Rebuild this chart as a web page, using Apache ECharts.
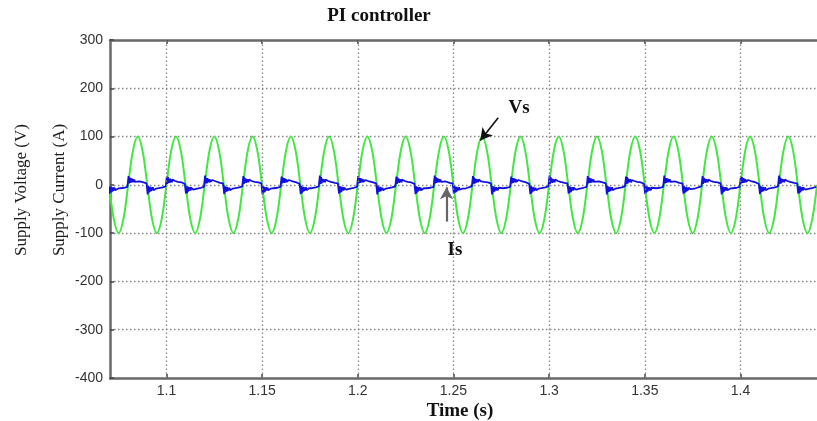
<!DOCTYPE html>
<html>
<head>
<meta charset="utf-8">
<title>PI controller</title>
<script src="https://cdn.jsdelivr.net/npm/echarts@6/dist/echarts.min.js"></script>
<style>
  html, body { margin: 0; padding: 0; background: #fff; }
  #chart { width: 817px; height: 421px; }
</style>
</head>
<body>
<div id="chart"></div>
<script>
// Time axis ticks (s) and supply-side value ticks
const xTickValues = [1.1, 1.15, 1.2, 1.25, 1.3, 1.35, 1.4];
const yTickMin = -400;
const yTickMax = 300;
const yTickStep = 100;

// Start time of each half cycle of the 50 Hz supply (s)
const halfStarts = [
  1.07, 1.08, 1.09, 1.10, 1.11, 1.12, 1.13, 1.14, 1.15, 1.16,
  1.17, 1.18, 1.19, 1.20, 1.21, 1.22, 1.23, 1.24, 1.25, 1.26,
  1.27, 1.28, 1.29, 1.30, 1.31, 1.32, 1.33, 1.34, 1.35, 1.36,
  1.37, 1.38, 1.39, 1.40, 1.41, 1.42, 1.43
];

// Supply voltage Vs (V): sample times inside a half cycle and the readings
const vsOffsets = [0, 0.0025, 0.005, 0.0075];
const vsHalfValues = [
  [0, -71, -100, -71], [0, 71, 100, 71], [0, -71, -100, -71], [0, 71, 100, 71],
  [0, -71, -100, -71], [0, 71, 100, 71], [0, -71, -100, -71], [0, 71, 100, 71],
  [0, -71, -100, -71], [0, 71, 100, 71], [0, -71, -100, -71], [0, 71, 100, 71],
  [0, -71, -100, -71], [0, 71, 100, 71], [0, -71, -100, -71], [0, 71, 100, 71],
  [0, -71, -100, -71], [0, 71, 100, 71], [0, -71, -100, -71], [0, 71, 100, 71],
  [0, -71, -100, -71], [0, 71, 100, 71], [0, -71, -100, -71], [0, 71, 100, 71],
  [0, -71, -100, -71], [0, 71, 100, 71], [0, -71, -100, -71], [0, 71, 100, 71],
  [0, -71, -100, -71], [0, 71, 100, 71], [0, -71, -100, -71], [0, 71, 100, 71],
  [0, -71, -100, -71], [0, 71, 100, 71], [0, -71, -100, -71], [0, 71, 100, 71],
  [0, -71, -100, -71]
];
const vsEnd = [1.44, 0];

// Supply current Is (A): sample times inside a half cycle and the readings
const isOffsets = [0.0002, 0.0005, 0.0008, 0.0011, 0.0014, 0.0017, 0.0020, 0.0023, 0.0026,
                   0.0029, 0.0032, 0.0035, 0.0040, 0.0045, 0.0060, 0.0080, 0.0096];
const isHalfValues = [
  [-19, -3, -16, -4, -15, -5, -13, -5, -12, -6, -11, -7, -10, -8, -7, -6, -4],
  [18, 3, 15, 4, 14, 5, 13, 5, 12, 6, 11, 6, 10, 8, 7, 5, 3],
  [-20, -2, -16, -4, -14, -4, -13, -6, -11, -5, -11, -7, -9, -8, -7, -5, -3],
  [17, 2, 16, 4, 13, 4, 13, 6, 11, 5, 11, 7, 9, 8, 6, 5, 2],
  [-18, -3, -17, -3, -14, -5, -12, -5, -12, -6, -10, -6, -10, -7, -8, -6, -4],
  [19, 3, 14, 3, 14, 5, 12, 5, 12, 6, 10, 6, 10, 7, 7, 4, 3],
  [-19, -2, -15, -5, -14, -4, -13, -6, -11, -6, -11, -7, -9, -8, -7, -5, -3],
  [18, 2, 15, 5, 13, 4, 12, 6, 11, 5, 11, 7, 9, 8, 6, 5, 3],
  [-20, -3, -16, -4, -15, -5, -12, -5, -12, -6, -11, -7, -10, -8, -7, -6, -4],
  [17, 3, 15, 4, 14, 4, 13, 5, 12, 6, 10, 6, 10, 8, 7, 5, 2],
  [-19, -2, -17, -4, -14, -4, -13, -6, -11, -5, -11, -7, -9, -7, -7, -5, -3],
  [19, 2, 16, 3, 13, 5, 12, 6, 11, 5, 11, 7, 9, 8, 6, 4, 3],
  [-18, -3, -16, -3, -15, -5, -12, -5, -12, -6, -10, -6, -10, -8, -8, -6, -4],
  [18, 3, 14, 4, 14, 5, 13, 5, 12, 6, 10, 6, 10, 7, 7, 5, 3],
  [-20, -2, -15, -5, -14, -4, -13, -6, -11, -6, -11, -7, -9, -8, -7, -5, -3],
  [17, 2, 15, 5, 13, 4, 12, 6, 11, 5, 11, 7, 9, 8, 6, 5, 2],
  [-19, -3, -17, -4, -14, -5, -12, -5, -12, -6, -11, -7, -10, -7, -7, -6, -4],
  [19, 3, 16, 4, 14, 5, 13, 5, 12, 6, 11, 6, 10, 8, 7, 4, 3],
  [-18, -2, -16, -4, -15, -4, -13, -6, -11, -5, -10, -7, -9, -8, -8, -5, -3],
  [18, 2, 15, 3, 13, 4, 12, 6, 11, 5, 11, 7, 9, 7, 6, 5, 3],
  [-20, -3, -15, -3, -14, -5, -12, -5, -12, -6, -11, -6, -10, -8, -7, -6, -4],
  [17, 3, 14, 4, 14, 5, 13, 5, 12, 6, 10, 6, 10, 8, 7, 5, 2],
  [-19, -2, -17, -5, -14, -4, -13, -6, -11, -6, -11, -7, -9, -8, -7, -5, -3],
  [19, 2, 16, 5, 13, 4, 12, 6, 11, 5, 11, 7, 9, 8, 6, 4, 3],
  [-18, -3, -16, -4, -15, -5, -12, -5, -12, -6, -10, -7, -10, -7, -8, -6, -4],
  [18, 3, 15, 4, 14, 4, 13, 5, 12, 6, 11, 6, 10, 7, 7, 5, 3],
  [-20, -2, -15, -4, -14, -4, -13, -6, -11, -5, -11, -7, -9, -8, -7, -5, -3],
  [17, 2, 16, 3, 13, 5, 12, 6, 11, 5, 10, 7, 9, 8, 6, 5, 2],
  [-19, -3, -16, -3, -14, -5, -12, -5, -12, -6, -11, -6, -10, -8, -7, -6, -4],
  [19, 3, 14, 4, 14, 5, 13, 5, 12, 6, 11, 6, 10, 8, 7, 4, 3],
  [-18, -2, -17, -5, -15, -4, -13, -6, -11, -6, -10, -7, -9, -7, -8, -5, -3],
  [18, 2, 15, 5, 13, 4, 12, 6, 11, 5, 11, 7, 9, 8, 6, 5, 3],
  [-20, -3, -16, -4, -14, -5, -12, -5, -12, -6, -11, -7, -10, -8, -7, -6, -4],
  [17, 3, 16, 4, 14, 4, 13, 5, 12, 6, 10, 6, 10, 7, 7, 5, 2],
  [-19, -2, -15, -4, -14, -4, -13, -6, -11, -5, -11, -7, -9, -8, -7, -5, -3],
  [19, 2, 15, 3, 13, 5, 12, 6, 11, 5, 11, 7, 9, 8, 6, 4, 3],
  [-18, -3, -17, -3, -15, -5, -12, -5, -12, -6, -10, -6, -10, -7, -8, -6, -4]
];

// Annotation arrows, in data coordinates [time, value]
const vsArrow = [[1.2734, 139], [1.2640, 92]];
const isArrow = [[1.2464, -76], [1.2464, -5]];

// Turn the half-cycle tables into [time, value] points
function buildPoints(starts, offsets, values) {
  const pts = [];
  starts.forEach((s, k) => {
    offsets.forEach((o, j) => {
      pts.push([+(s + o).toFixed(5), values[k][j]]);
    });
  });
  return pts;
}
const vsData = buildPoints(halfStarts, vsOffsets, vsHalfValues).concat([vsEnd]);
const isData = buildPoints(halfStarts, isOffsets, isHalfValues);

const serif = '"Liberation Serif", "Times New Roman", serif';
const sans = '"Liberation Sans", Arial, sans-serif';
const axisGray = '#6a6a6a';
const gridDots = { color: '#858585', width: 1.3, type: [1.5, 2.5] };

const chart = echarts.init(document.getElementById('chart'), null, { renderer: 'canvas' });

const xMin = 1.0705, xMax = 1.44;

chart.setOption({
  animation: false,
  backgroundColor: '#ffffff',
  grid: { left: 110, right: -20, top: 40, bottom: 43, containLabel: false },
  xAxis: [
    {
      type: 'value', min: xMin, max: xMax, position: 'bottom',
      axisLine: { show: true, onZero: false, lineStyle: { color: axisGray, width: 2.5 } },
      axisTick: { show: true, inside: true, length: 4, customValues: xTickValues,
                  lineStyle: { color: '#444', width: 1.5 } },
      axisLabel: { show: true, customValues: xTickValues, margin: 6,
                   color: '#333', fontFamily: sans, fontSize: 14,
                   formatter: v => String(+v.toFixed(2)) },
      splitLine: { show: false }
    },
    {
      type: 'value', min: xMin, max: xMax, position: 'top',
      axisLine: { show: true, onZero: false, lineStyle: { color: axisGray, width: 2.5 } },
      axisTick: { show: true, inside: true, length: 4, customValues: xTickValues,
                  lineStyle: { color: '#444', width: 1.5 } },
      axisLabel: { show: false },
      splitLine: { show: false }
    }
  ],
  yAxis: {
    type: 'value', min: yTickMin, max: yTickMax, interval: yTickStep,
    axisLine: { show: true, onZero: false, lineStyle: { color: axisGray, width: 2.5 } },
    axisTick: { show: true, inside: true, length: 4, lineStyle: { color: '#444', width: 1.5 } },
    axisLabel: { margin: 7, color: '#333', fontFamily: sans, fontSize: 14 },
    splitLine: { show: true, lineStyle: gridDots }
  },
  series: [
    {
      // vertical dotted grid at each time tick
      name: 'grid', type: 'line', data: [[xTickValues[0], 0]], symbol: 'none',
      lineStyle: { opacity: 0 }, silent: true, z: 1,
      markLine: {
        silent: true, symbol: 'none', label: { show: false },
        lineStyle: gridDots,
        data: xTickValues.map(v => ({ xAxis: v }))
      }
    },
    {
      name: 'Vs', type: 'line', data: vsData, symbol: 'none', smooth: 0.35,
      lineStyle: { color: '#40e840', width: 2 }, z: 2
    },
    {
      name: 'Is', type: 'line', data: isData, symbol: 'none',
      lineStyle: { color: '#1010e0', width: 1.8 }, z: 3,
      markLine: {
        silent: true, symbol: ['none', 'arrow'], symbolSize: [10, 12],
        label: { show: false },
        data: [
          [{ coord: vsArrow[0], lineStyle: { color: '#111', width: 1.6, type: 'solid' } },
           { coord: vsArrow[1] }],
          [{ coord: isArrow[0], lineStyle: { color: '#666', width: 2.2, type: 'solid' } },
           { coord: isArrow[1] }]
        ]
      }
    }
  ],
  graphic: [
    { type: 'text', x: 379, y: 16, style: { text: 'PI controller', fontFamily: serif,
      fontWeight: 'bold', fontSize: 19, fill: '#111', align: 'center', verticalAlign: 'middle' } },
    { type: 'text', x: 460, y: 411, style: { text: 'Time (s)', fontFamily: serif,
      fontWeight: 'bold', fontSize: 19, fill: '#111', align: 'center', verticalAlign: 'middle' } },
    { type: 'text', x: 22, y: 190, rotation: Math.PI / 2, style: { text: 'Supply Voltage (V)',
      fontFamily: serif, fontSize: 17, fill: '#1a1a1a', align: 'center', verticalAlign: 'middle' } },
    { type: 'text', x: 60, y: 190, rotation: Math.PI / 2, style: { text: 'Supply Current (A)',
      fontFamily: serif, fontSize: 17, fill: '#1a1a1a', align: 'center', verticalAlign: 'middle' } },
    { type: 'text', x: 519, y: 108, style: { text: 'Vs', fontFamily: serif,
      fontWeight: 'bold', fontSize: 19, fill: '#111', align: 'center', verticalAlign: 'middle' } },
    { type: 'text', x: 455, y: 250, style: { text: 'Is', fontFamily: serif,
      fontWeight: 'bold', fontSize: 19, fill: '#111', align: 'center', verticalAlign: 'middle' } }
  ]
});
</script>
</body>
</html>
